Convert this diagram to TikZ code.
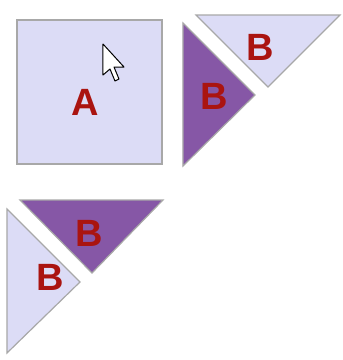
\documentclass[tikz,border=0pt]{standalone}
\usepackage{fontspec}
\setmainfont{Liberation Sans}
\definecolor{lightpurple}{HTML}{DCDCF6}
\definecolor{darkpurple}{HTML}{8657A6}
\definecolor{labelred}{HTML}{AA1410}
\definecolor{edgegray}{HTML}{A8A8A8}

\begin{document}
\begin{tikzpicture}[x=1pt,y=-1pt,
    light/.style={fill=lightpurple,draw=edgegray,line width=1.2pt},
    dark/.style={fill=darkpurple,draw=edgegray,line width=1.2pt},
    letter/.style={text=labelred,font=\fontsize{38}{38}\selectfont\bfseries,inner sep=0pt}]
    \useasboundingbox (0,0) rectangle (343,360);
    % square and the two triangles beside it
    \draw[light] (17,20) rectangle (162,164);
    \draw[dark] (183,23) -- (255,95) -- (183,166) -- cycle;
    \draw[light] (196,15) -- (340,15) -- (268,87) -- cycle;
    % the two triangles below
    \draw[dark] (20,200) -- (163,200) -- (92,273) -- cycle;
    \draw[light] (7,209) -- (80,282) -- (7,353) -- cycle;
    \node[letter] (A) at (85,102) {A};
    \node[letter] (B1) at (260,47) {B};
    \node[letter] (B2) at (214,96) {B};
    \node[letter] (B3) at (89,233) {B};
    \node[letter] (B4) at (50,277) {B};
    % mouse pointer
    \draw[fill=white,line width=1pt,line join=round] (103,44) -- (103,75) -- (110,69) -- (115,81) -- (119,79) -- (114,67) -- (124,67) -- cycle;
\end{tikzpicture}
\end{document}
